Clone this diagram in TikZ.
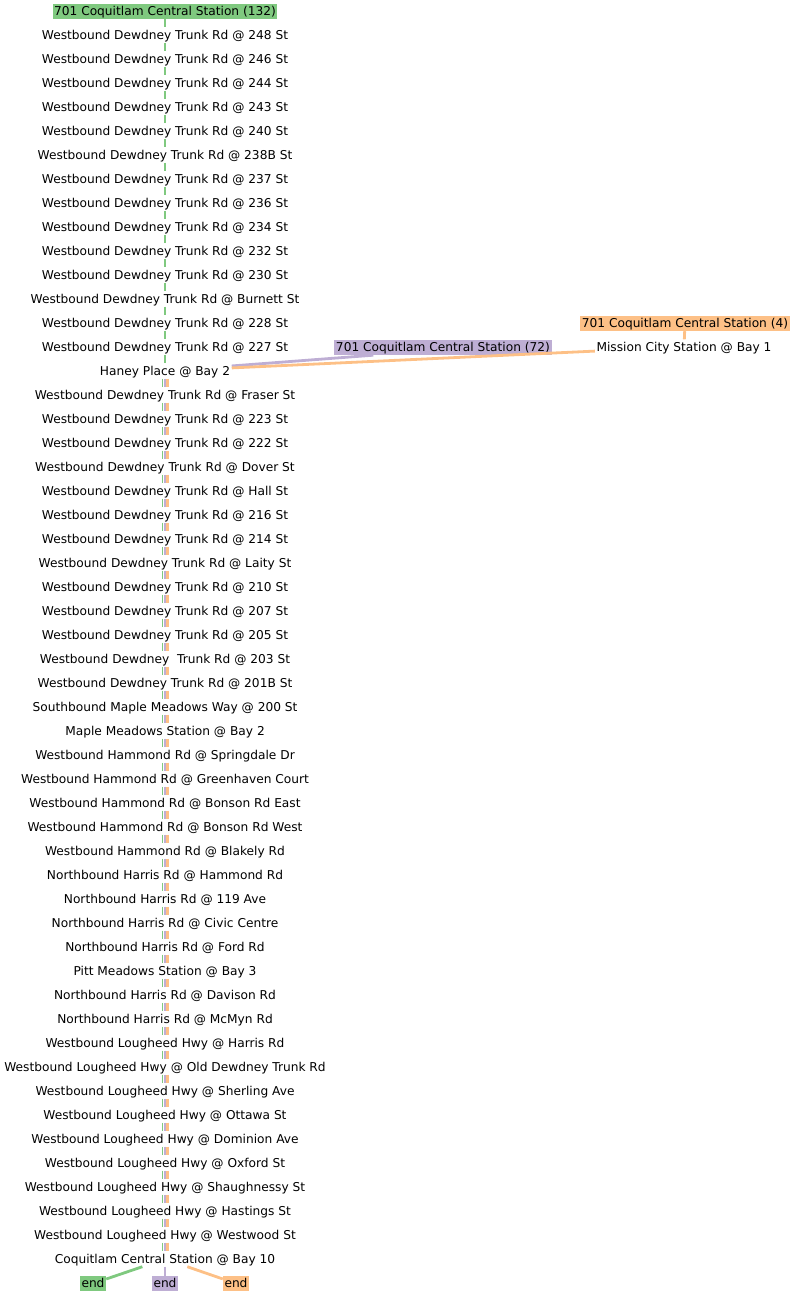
\documentclass[tikz,border=0pt]{standalone}
\usepackage{fontspec}
\setmainfont{DejaVu Sans}
\definecolor{cG}{HTML}{7FC97F}
\definecolor{cP}{HTML}{BEAED4}
\definecolor{cO}{HTML}{FDC086}
\tikzset{
    stop/.style={inner xsep=1.5pt, inner ysep=1.5pt, text height=10pt, text depth=2pt, font=\fontsize{12.2pt}{14pt}\selectfont},
    gbox/.style={stop, fill=cG},
    pbox/.style={stop, fill=cP},
    obox/.style={stop, fill=cO},
    gline/.style={draw=cG, line width=2.8pt},
    pline/.style={draw=cP, line width=2.8pt},
    oline/.style={draw=cO, line width=2.8pt},
    threeline/.style={draw=cP, line width=2.9pt,
        preaction={draw=cG, transform canvas={xshift=-2.9pt}},
        postaction={draw=cO, transform canvas={xshift=2.9pt}}}
}
\begin{document}
\begin{tikzpicture}[x=1pt, y=-1pt]
\useasboundingbox (0,0) rectangle (793,1296);

\node[gbox] (lab132) at (165,11.5) {701 Coquitlam Central Station (132)};
\node[stop] (s1) at (165,35) {Westbound Dewdney Trunk Rd @ 248 St};
\node[stop] (s2) at (165,59) {Westbound Dewdney Trunk Rd @ 246 St};
\node[stop] (s3) at (165,83) {Westbound Dewdney Trunk Rd @ 244 St};
\node[stop] (s4) at (165,107) {Westbound Dewdney Trunk Rd @ 243 St};
\node[stop] (s5) at (165,131) {Westbound Dewdney Trunk Rd @ 240 St};
\node[stop] (s6) at (165,155) {Westbound Dewdney Trunk Rd @ 238B St};
\node[stop] (s7) at (165,179) {Westbound Dewdney Trunk Rd @ 237 St};
\node[stop] (s8) at (165,203) {Westbound Dewdney Trunk Rd @ 236 St};
\node[stop] (s9) at (165,227) {Westbound Dewdney Trunk Rd @ 234 St};
\node[stop] (s10) at (165,251) {Westbound Dewdney Trunk Rd @ 232 St};
\node[stop] (s11) at (165,275) {Westbound Dewdney Trunk Rd @ 230 St};
\node[stop] (s12) at (165,299) {Westbound Dewdney Trunk Rd @ Burnett St};
\node[stop] (s13) at (165,323) {Westbound Dewdney Trunk Rd @ 228 St};
\node[stop] (s14) at (165,347) {Westbound Dewdney Trunk Rd @ 227 St};
\node[stop] (s15) at (165,371) {Haney Place @ Bay 2};
\node[stop] (s16) at (165,395) {Westbound Dewdney Trunk Rd @ Fraser St};
\node[stop] (s17) at (165,419) {Westbound Dewdney Trunk Rd @ 223 St};
\node[stop] (s18) at (165,443) {Westbound Dewdney Trunk Rd @ 222 St};
\node[stop] (s19) at (165,467) {Westbound Dewdney Trunk Rd @ Dover St};
\node[stop] (s20) at (165,491) {Westbound Dewdney Trunk Rd @ Hall St};
\node[stop] (s21) at (165,515) {Westbound Dewdney Trunk Rd @ 216 St};
\node[stop] (s22) at (165,539) {Westbound Dewdney Trunk Rd @ 214 St};
\node[stop] (s23) at (165,563) {Westbound Dewdney Trunk Rd @ Laity St};
\node[stop] (s24) at (165,587) {Westbound Dewdney Trunk Rd @ 210 St};
\node[stop] (s25) at (165,611) {Westbound Dewdney Trunk Rd @ 207 St};
\node[stop] (s26) at (165,635) {Westbound Dewdney Trunk Rd @ 205 St};
\node[stop] (s27) at (165,659) {Westbound Dewdney\ \ Trunk Rd @ 203 St};
\node[stop] (s28) at (165,683) {Westbound Dewdney Trunk Rd @ 201B St};
\node[stop] (s29) at (165,707) {Southbound Maple Meadows Way @ 200 St};
\node[stop] (s30) at (165,731) {Maple Meadows Station @ Bay 2};
\node[stop] (s31) at (165,755) {Westbound Hammond Rd @ Springdale Dr};
\node[stop] (s32) at (165,779) {Westbound Hammond Rd @ Greenhaven Court};
\node[stop] (s33) at (165,803) {Westbound Hammond Rd @ Bonson Rd East};
\node[stop] (s34) at (165,827) {Westbound Hammond Rd @ Bonson Rd West};
\node[stop] (s35) at (165,851) {Westbound Hammond Rd @ Blakely Rd};
\node[stop] (s36) at (165,875) {Northbound Harris Rd @ Hammond Rd};
\node[stop] (s37) at (165,899) {Northbound Harris Rd @ 119 Ave};
\node[stop] (s38) at (165,923) {Northbound Harris Rd @ Civic Centre};
\node[stop] (s39) at (165,947) {Northbound Harris Rd @ Ford Rd};
\node[stop] (s40) at (165,971) {Pitt Meadows Station @ Bay 3};
\node[stop] (s41) at (165,995) {Northbound Harris Rd @ Davison Rd};
\node[stop] (s42) at (165,1019) {Northbound Harris Rd @ McMyn Rd};
\node[stop] (s43) at (165,1043) {Westbound Lougheed Hwy @ Harris Rd};
\node[stop] (s44) at (165,1067) {Westbound Lougheed Hwy @ Old Dewdney Trunk Rd};
\node[stop] (s45) at (165,1091) {Westbound Lougheed Hwy @ Sherling Ave};
\node[stop] (s46) at (165,1115) {Westbound Lougheed Hwy @ Ottawa St};
\node[stop] (s47) at (165,1139) {Westbound Lougheed Hwy @ Dominion Ave};
\node[stop] (s48) at (165,1163) {Westbound Lougheed Hwy @ Oxford St};
\node[stop] (s49) at (165,1187) {Westbound Lougheed Hwy @ Shaughnessy St};
\node[stop] (s50) at (165,1211) {Westbound Lougheed Hwy @ Hastings St};
\node[stop] (s51) at (165,1235) {Westbound Lougheed Hwy @ Westwood St};
\node[stop] (s52) at (165,1259) {Coquitlam Central Station @ Bay 10};

\node[pbox] (lab72) at (443,347.5) {701 Coquitlam Central Station (72)};
\node[obox] (lab4) at (685,323.5) {701 Coquitlam Central Station (4)};
\node[stop] (mission) at (684,347) {Mission City Station @ Bay 1};

\node[gbox] (endg) at (93,1283.5) {end};
\node[pbox] (endp) at (165,1283.5) {end};
\node[obox] (endo) at (236,1283.5) {end};

% green part, down to Haney Place
\draw[gline] (lab132) -- (s1);
\draw[gline] (s1) -- (s2);
\draw[gline] (s2) -- (s3);
\draw[gline] (s3) -- (s4);
\draw[gline] (s4) -- (s5);
\draw[gline] (s5) -- (s6);
\draw[gline] (s6) -- (s7);
\draw[gline] (s7) -- (s8);
\draw[gline] (s8) -- (s9);
\draw[gline] (s9) -- (s10);
\draw[gline] (s10) -- (s11);
\draw[gline] (s11) -- (s12);
\draw[gline] (s12) -- (s13);
\draw[gline] (s13) -- (s14);
\draw[gline] (s14) -- (s15);

% other two trips join at Haney Place
\draw[pline] ([xshift=39pt]lab72.south west) -- (s15);
\draw[oline] (lab4) -- (mission);
\draw[oline] (mission) -- (s15);

% all three together
\draw[threeline] (s15) -- (s16);
\draw[threeline] (s16) -- (s17);
\draw[threeline] (s17) -- (s18);
\draw[threeline] (s18) -- (s19);
\draw[threeline] (s19) -- (s20);
\draw[threeline] (s20) -- (s21);
\draw[threeline] (s21) -- (s22);
\draw[threeline] (s22) -- (s23);
\draw[threeline] (s23) -- (s24);
\draw[threeline] (s24) -- (s25);
\draw[threeline] (s25) -- (s26);
\draw[threeline] (s26) -- (s27);
\draw[threeline] (s27) -- (s28);
\draw[threeline] (s28) -- (s29);
\draw[threeline] (s29) -- (s30);
\draw[threeline] (s30) -- (s31);
\draw[threeline] (s31) -- (s32);
\draw[threeline] (s32) -- (s33);
\draw[threeline] (s33) -- (s34);
\draw[threeline] (s34) -- (s35);
\draw[threeline] (s35) -- (s36);
\draw[threeline] (s36) -- (s37);
\draw[threeline] (s37) -- (s38);
\draw[threeline] (s38) -- (s39);
\draw[threeline] (s39) -- (s40);
\draw[threeline] (s40) -- (s41);
\draw[threeline] (s41) -- (s42);
\draw[threeline] (s42) -- (s43);
\draw[threeline] (s43) -- (s44);
\draw[threeline] (s44) -- (s45);
\draw[threeline] (s45) -- (s46);
\draw[threeline] (s46) -- (s47);
\draw[threeline] (s47) -- (s48);
\draw[threeline] (s48) -- (s49);
\draw[threeline] (s49) -- (s50);
\draw[threeline] (s50) -- (s51);
\draw[threeline] (s51) -- (s52);

% split at the end
\draw[gline] (s52) -- (endg);
\draw[pline] (s52) -- (endp);
\draw[oline] (s52) -- (endo);
\end{tikzpicture}
\end{document}
